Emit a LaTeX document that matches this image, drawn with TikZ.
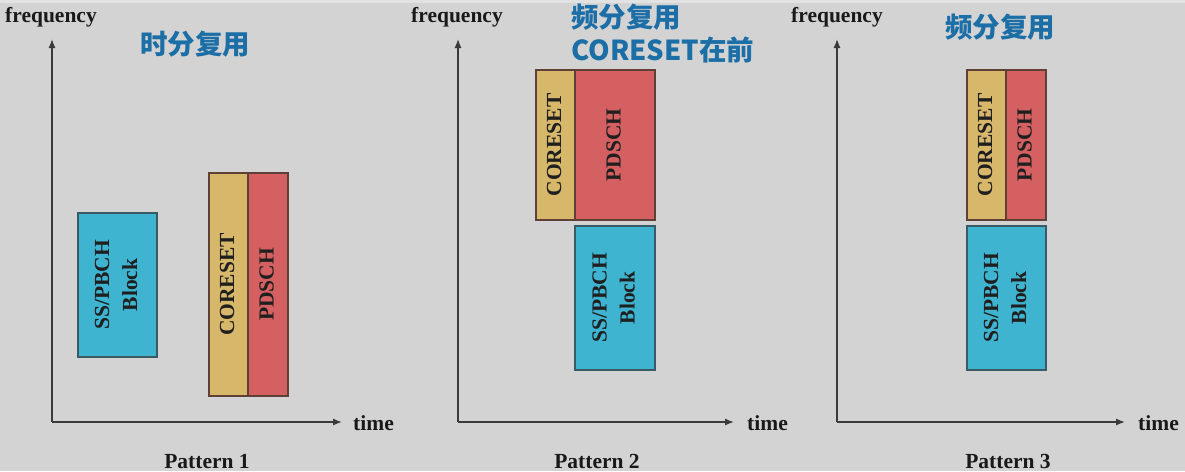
\documentclass[tikz,border=0pt]{standalone}
\usepackage{fontspec}
\setmainfont{Liberation Serif}
\newfontfamily\cjk{Noto Sans CJK SC}
\usetikzlibrary{arrows.meta}
\definecolor{bg}{HTML}{D3D3D3}
\definecolor{topstrip}{HTML}{E2E2E2}
\definecolor{ssblue}{HTML}{3FB4D1}
\definecolor{coretan}{HTML}{D7B86B}
\definecolor{pdred}{HTML}{D56061}
\definecolor{titleblue}{HTML}{1C6EA6}
\definecolor{axisgray}{HTML}{3A3A3A}
\definecolor{edgebrown}{HTML}{5E4036}
\definecolor{edgeteal}{HTML}{3A5A66}
\tikzset{
  lbl/.style={font=\fontsize{21.5}{28}\selectfont\bfseries, text=black!90, inner sep=0pt},
  ttl/.style={font=\cjk\fontsize{27.5}{33}\selectfont\bfseries, text=titleblue, inner sep=0pt},
  blk/.style={draw, line width=1.2pt, anchor=north west, inner sep=0pt, outer sep=0pt,
    font=\fontsize{21.5}{28}\selectfont\bfseries, text=black!88},
  ssb/.style={blk, fill=ssblue, draw=edgeteal},
  crb/.style={blk, fill=coretan, draw=edgebrown},
  pdb/.style={blk, fill=pdred, draw=edgebrown},
  axis/.style={draw=axisgray, line width=1.3pt, -{Latex[length=9pt,width=7pt]}},
}
\newcommand{\vlab}[1]{\rotatebox{90}{\begin{tabular}{@{}c@{}}#1\end{tabular}}}
\begin{document}
\begin{tikzpicture}[x=1pt,y=-1pt]
\fill[bg] (0,0) rectangle (1185,471);
\fill[topstrip] (0,0) rectangle (1185,3);
\useasboundingbox (0,0) rectangle (1185,471);

% ---------- Pattern 1 ----------
\coordinate (o1) at (52,422);
\coordinate (f1) at (52,39);
\coordinate (t1) at (342,422);
\draw[axis] (o1) -- (f1);
\draw[axis] (o1) -- (t1);
\node[lbl, anchor=base west] (freq1) at (5,23) {frequency};
\node[lbl, anchor=base west] (time1) at (353,430) {time};
\node[lbl, anchor=base] (pat1) at (207,468) {Pattern 1};
\node[ttl] (title1) at (195,44) {时分复用};
\node[ssb, minimum width=79pt, minimum height=144pt] (ss1) at (78,213) {\vlab{SS/PBCH\\Block}};
\node[crb, minimum width=39pt, minimum height=223pt] (cr1) at (209,173) {\vlab{CORESET}};
\node[pdb, minimum width=40pt, minimum height=223pt] (pd1) at (248,173) {\vlab{PDSCH}};

% ---------- Pattern 2 ----------
\coordinate (o2) at (458,422);
\coordinate (f2) at (458,39);
\coordinate (t2) at (734,422);
\draw[axis] (o2) -- (f2);
\draw[axis] (o2) -- (t2);
\node[lbl, anchor=base west] (freq2) at (411,23) {frequency};
\node[lbl, anchor=base west] (time2) at (747,430) {time};
\node[lbl, anchor=base] (pat2) at (597,468) {Pattern 2};
\node[ttl, align=left, anchor=north west] (title2) at (571,4) {频分复用\\CORESET在前};
\node[crb, minimum width=39pt, minimum height=150pt] (cr2) at (536,70) {\vlab{CORESET}};
\node[pdb, minimum width=80pt, minimum height=150pt] (pd2) at (575,70) {\vlab{PDSCH}};
\node[ssb, minimum width=80pt, minimum height=144pt] (ss2) at (575,226) {\vlab{SS/PBCH\\Block}};

% ---------- Pattern 3 ----------
\coordinate (o3) at (837,422);
\coordinate (f3) at (837,39);
\coordinate (t3) at (1125,422);
\draw[axis] (o3) -- (f3);
\draw[axis] (o3) -- (t3);
\node[lbl, anchor=base west] (freq3) at (791,23) {frequency};
\node[lbl, anchor=base west] (time3) at (1138,430) {time};
\node[lbl, anchor=base] (pat3) at (1008,468) {Pattern 3};
\node[ttl] (title3) at (1000,27) {频分复用};
\node[crb, minimum width=39pt, minimum height=150pt] (cr3) at (967,70) {\vlab{CORESET}};
\node[pdb, minimum width=40pt, minimum height=150pt] (pd3) at (1006,70) {\vlab{PDSCH}};
\node[ssb, minimum width=79pt, minimum height=144pt] (ss3) at (967,226) {\vlab{SS/PBCH\\Block}};
\end{tikzpicture}
\end{document}
